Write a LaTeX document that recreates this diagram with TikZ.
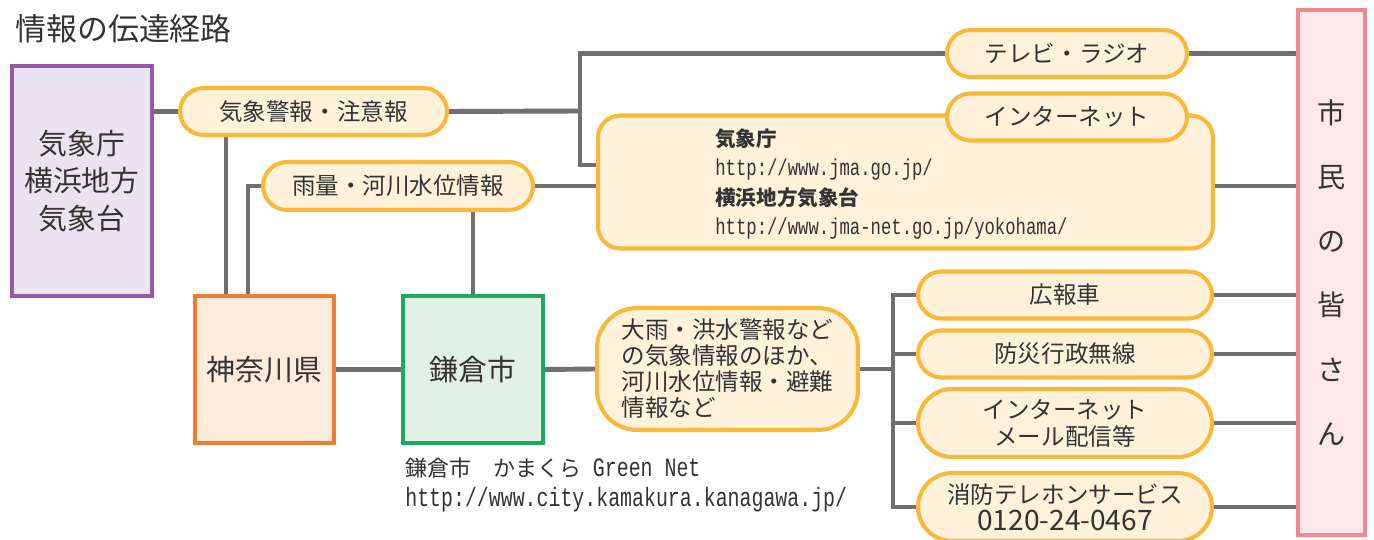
\documentclass[tikz,border=0pt]{standalone}
\usepackage{fontspec}
\setmainfont{Noto Sans CJK JP}
\newfontfamily\urlfont[FakeStretch=0.75]{Liberation Mono}
\usetikzlibrary{backgrounds,calc}
\usetikzlibrary{shapes.misc}

\definecolor{linegray}{RGB}{112,112,114}
\definecolor{txtgray}{RGB}{51,51,51}
\definecolor{purpleline}{RGB}{148,88,166}
\definecolor{purplefill}{RGB}{234,228,242}
\definecolor{orangeline}{RGB}{240,126,48}
\definecolor{orangefill}{RGB}{253,235,221}
\definecolor{greenline}{RGB}{30,170,94}
\definecolor{greenfill}{RGB}{226,241,230}
\definecolor{pillline}{RGB}{249,184,58}
\definecolor{pillfill}{RGB}{255,241,218}
\definecolor{pinkline}{RGB}{240,136,146}
\definecolor{pinkfill}{RGB}{253,231,232}

\tikzset{
  orgbox/.style={draw, line width=2.3pt, inner sep=0pt, align=center, text=txtgray,
    font=\fontsize{16.4}{21.3}\selectfont},
  pill/.style={rounded rectangle, draw=pillline, fill=pillfill, line width=2.3pt,
    minimum height=0.94cm, inner sep=0pt, align=center, text=txtgray,
    font=\fontsize{13.4}{15.3}\selectfont},
  link/.style={draw=linegray, line width=2.8pt},
}

\begin{document}
\begin{tikzpicture}[x=0.02cm,y=-0.02cm]
    \useasboundingbox (0,0) rectangle (1374,540);
    \node[anchor=west, inner sep=0pt, text=txtgray, font=\fontsize{17.6}{20}\selectfont] (title) at (15,29) {情報の伝達経路};

    % sources
    \node[orgbox, draw=purpleline, fill=purplefill, minimum width=2.8cm, minimum height=4.6cm] (kishocho) at (82,181) {気象庁\\横浜地方\\気象台};
    \node[orgbox, draw=orangeline, fill=orangefill, minimum width=2.78cm, minimum height=2.94cm] (kanagawa) at (264.5,369.5) {神奈川県};
    \node[orgbox, draw=greenline, fill=greenfill, minimum width=2.8cm, minimum height=2.94cm] (kamakura) at (473,369.5) {鎌倉市};
    \node[orgbox, draw=pinkline, fill=pinkfill, line width=2.6pt, minimum width=1.34cm, minimum height=10.5cm,
      font=\fontsize{16}{36.6}\selectfont] (shimin) at (1331.5,272.5) {市\\民\\の\\皆\\さ\\ん};

    % information
    \node[pill, minimum width=5.34cm] (keiho) at (313.5,111.5) {気象警報・注意報};
    \node[pill, minimum width=5.4cm, minimum height=0.96cm] (uryo) at (398,186) {雨量・河川水位情報};
    \node[pill, minimum width=4.8cm] (tv) at (1067,53.5) {テレビ・ラジオ};
    \node[draw=pillline, fill=pillfill, line width=2.3pt, rounded corners=0.44cm,
      minimum width=12.3cm, minimum height=2.66cm] (netbox) at (905.5,182) {};
    \node[pill, minimum width=4.8cm] (net) at (1067,117) {インターネット};
    \node[anchor=west, align=left, inner sep=0pt, text=txtgray, font=\fontsize{11.7}{16.6}\selectfont] (jmatext) at (715,184)
      {{\bfseries 気象庁}\\{\urlfont\fontsize{13.1}{16.6}\selectfont http://www.jma.go.jp/}\\{\bfseries 横浜地方気象台}\\{\urlfont\fontsize{13.1}{16.6}\selectfont http://www.jma-net.go.jp/yokohama/}};
    \node[draw=pillline, fill=pillfill, line width=2.3pt, rounded corners=0.8cm, align=left, text=txtgray,
      font=\fontsize{13.4}{14.8}\selectfont, minimum width=5.22cm, minimum height=2.44cm] (warn) at (727.5,369)
      {大雨・洪水警報など\\の気象情報のほか、\\河川水位情報・避難\\情報など};
    \node[anchor=west, align=left, inner sep=0pt, text=txtgray, font=\fontsize{12.5}{17}\selectfont] (kmtext) at (405,485)
      {鎌倉市　かまくら{\urlfont\fontsize{15.1}{17}\selectfont\ Green Net}\\{\urlfont\fontsize{15.1}{17}\selectfont http://www.city.kamakura.kanagawa.jp/}};

    % city channels
    \node[pill, minimum width=5.88cm] (koho) at (1065,295) {広報車};
    \node[pill, minimum width=5.88cm] (bosai) at (1065,354) {防災行政無線};
    \node[pill, minimum width=5.88cm, minimum height=1.36cm] (mail) at (1065,423) {インターネット\\メール配信等};
    \node[pill, minimum width=5.88cm, minimum height=1.36cm] (shobo) at (1065,507) {消防テレホンサービス\\{\fontsize{16}{15.3}\selectfont 0120-24-0467}};

    \coordinate (jA) at (580,111);
    \coordinate (jC) at (893,369);

    \begin{pgfonlayer}{background}
    \draw[link] (kishocho.east |- keiho) -- (keiho.west);
    \draw[link] (keiho.east) -- (jA);
    \draw[link] (tv.west) -| (jA) |- ($(netbox.west)+(0,-17)$);
    \draw[link] (uryo.east) -- (uryo.east -| netbox.west);
    \draw[link] (netbox.east |- uryo) -- (shimin.west |- uryo);
    \draw[link] (tv.east) -- (tv.east -| shimin.west);
    \draw[link] ([xshift=-0.77cm]kanagawa.north) coordinate (k1) -- (k1 |- keiho.south);
    \draw[link] ([xshift=-0.33cm]kanagawa.north) |- (uryo.west);
    \draw[link] (kamakura.north) -- (kamakura.north |- uryo.south);
    \draw[link] (kanagawa.east) -- (kamakura.west);
    \draw[link] (kamakura.east) -- (warn.west);
    \draw[link] (warn.east) -- (jC);
    \draw[link] (koho.west) -| (jC) |- (shobo.west);
    \draw[link] (bosai.west) -- (bosai.west -| jC);
    \draw[link] (mail.west) -- (mail.west -| jC);
    \foreach \n in {koho,bosai,mail,shobo}
      \draw[link] (\n.east) -- (\n.east -| shimin.west);
    \end{pgfonlayer}
\end{tikzpicture}
\end{document}
